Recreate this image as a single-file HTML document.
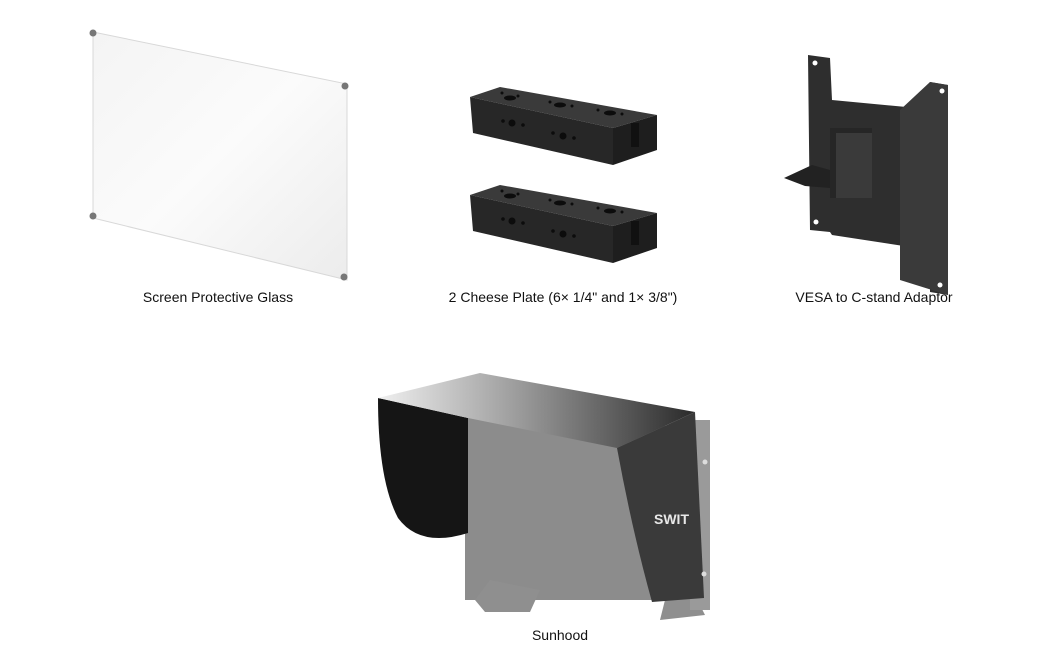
<!DOCTYPE html>
<html><head><meta charset="utf-8"><style>
html,body{margin:0;padding:0;background:#fff;}
.w{position:relative;width:1050px;height:670px;overflow:hidden;font-family:"Liberation Sans",sans-serif;}
.l{position:absolute;font-size:14px;color:#111;transform:translateX(-50%);white-space:nowrap;}
svg{position:absolute;left:0;top:0}
</style></head><body><div class="w">
<svg width="1050" height="670" viewBox="0 0 1050 670">
<defs>
<linearGradient id="gl" x1="0" y1="0" x2="1" y2="1"><stop offset="0" stop-color="#f4f4f4"/><stop offset=".5" stop-color="#fbfbfb"/><stop offset="1" stop-color="#ececec"/></linearGradient>
<linearGradient id="top" x1="0" y1="0" x2="1" y2="0"><stop offset="0" stop-color="#f0f0f0"/><stop offset=".45" stop-color="#9a9a9a"/><stop offset="1" stop-color="#2a2a2a"/></linearGradient>
<g id="plate">
<polygon points="470,97 500,87 657,115 613,128" fill="#3a3a3a"/>
<polygon points="470,97 613,128 613,165 473,133" fill="#272727"/>
<polygon points="613,128 657,115 657,150 613,165" fill="#1e1e1e"/>
<g fill="#0c0c0c">
<ellipse cx="510" cy="98" rx="6" ry="2.5"/><ellipse cx="560" cy="105" rx="6" ry="2.5"/><ellipse cx="610" cy="113" rx="6" ry="2.5"/>
<circle cx="502" cy="93" r="1.5"/><circle cx="518" cy="96" r="1.5"/><circle cx="550" cy="102" r="1.5"/><circle cx="572" cy="106" r="1.5"/><circle cx="598" cy="110" r="1.5"/><circle cx="622" cy="114" r="1.5"/>
<circle cx="512" cy="123" r="3.5"/><circle cx="503" cy="121" r="1.8"/><circle cx="523" cy="125" r="1.8"/>
<circle cx="563" cy="136" r="3.5"/><circle cx="553" cy="133" r="1.8"/><circle cx="574" cy="138" r="1.8"/>
</g>
<rect x="631" y="123" width="8" height="24" fill="#111"/>
</g>
</defs>
<!-- glass -->
<polygon points="93,32 347,84 347,280 93,218" fill="url(#gl)" stroke="#d8d8d8"/>
<g fill="#777"><circle cx="93" cy="33" r="3.5"/><circle cx="345" cy="86" r="3.5"/><circle cx="93" cy="216" r="3.5"/><circle cx="344" cy="277" r="3.5"/></g>
<!-- cheese plates -->
<use href="#plate"/>
<use href="#plate" transform="translate(0,98)"/>
<!-- VESA -->
<polygon points="808,55 830,58 832,100 917,108 930,82 948,85 948,295 930,292 930,250 832,235 830,232 810,230" fill="#2e2e2e"/>
<polygon points="900,110 930,82 948,85 948,295 900,280" fill="#3a3a3a"/>
<g fill="#fff"><circle cx="815" cy="63" r="2.5"/><circle cx="942" cy="91" r="2.5"/><circle cx="816" cy="222" r="2.5"/><circle cx="940" cy="285" r="2.5"/></g>
<rect x="830" y="128" width="42" height="70" fill="#262626"/>
<rect x="836" y="133" width="36" height="65" fill="#3a3a3a"/>
<polygon points="784,178 812,165 830,170 830,188 805,186" fill="#222"/>
<!-- sunhood -->
<rect x="465" y="418" width="200" height="182" fill="#8c8c8c"/>
<path d="M475,600 L490,580 L540,590 L530,612 L485,612 Z" fill="#8f8f8f"/>
<path d="M665,600 L690,585 L705,615 L660,620 Z" fill="#8f8f8f"/>
<rect x="690" y="420" width="20" height="190" fill="#9a9a9a"/>
<path d="M378,398 L468,418 L468,533 Q420,548 398,518 Q378,480 378,398 Z" fill="#151515"/>
<polygon points="378,398 480,373 695,412 617,448 468,418" fill="url(#top)"/>
<path d="M617,448 L695,412 L704,598 L652,602 Q632,530 617,448 Z" fill="#3a3a3a"/>
<text x="654" y="524" font-family="Liberation Sans,sans-serif" font-weight="bold" font-size="14" fill="#e8e8e8">SWIT</text>
<g fill="#ddd"><circle cx="705" cy="462" r="2.5"/><circle cx="704" cy="574" r="2.5"/></g>
</svg>
<div class="l" style="left:218px;top:289px">Screen Protective Glass</div>
<div class="l" style="left:563px;top:289px">2 Cheese Plate (6× 1/4" and 1× 3/8")</div>
<div class="l" style="left:874px;top:289px">VESA to C-stand Adaptor</div>
<div class="l" style="left:560px;top:627px">Sunhood</div>
</div></body></html>
